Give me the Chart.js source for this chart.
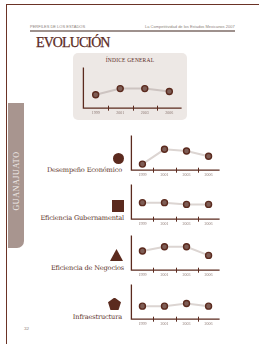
<!DOCTYPE html>
<html><head><meta charset="utf-8">
<script src="https://cdn.jsdelivr.net/npm/chart.js@4.4.0/dist/chart.umd.min.js"></script>
<style>
html,body{margin:0;padding:0;background:#fff;width:259px;height:344px;overflow:hidden;position:relative;-webkit-font-smoothing:antialiased}
.a{position:absolute}
canvas.a{display:block}
.lbl{position:absolute;white-space:nowrap;text-align:right;font-family:"DejaVu Serif",serif;font-size:6.6px;line-height:8px;color:#5b3229;letter-spacing:-0.15px}
</style></head><body>
<div class="a" style="left:6px;top:4px;width:253px;height:1px;background:#6b3326"></div>
<div class="a" style="left:6px;top:4px;width:1px;height:340px;background:#6b3326"></div>
<div class="a" style="left:30px;top:24px;font:4px 'Liberation Sans',sans-serif;color:#8d7f7b;white-space:nowrap">PERFILES DE LOS ESTADOS</div>
<div class="a" style="left:145px;top:24px;font:4px 'Liberation Sans',sans-serif;color:#8d7f7b;white-space:nowrap">La Competitividad de los Estados Mexicanos 2007</div>
<div class="a" style="left:30px;top:29.5px;width:205px;height:2px;background:#9e918d"></div>
<div class="a" style="left:36px;top:35px;font:14px 'Liberation Serif',serif;color:#5b2a1e;white-space:nowrap;letter-spacing:-0.9px;-webkit-text-stroke:0.25px #5b2a1e">EVOLUCIÓN</div>
<div class="a" style="left:73px;top:53px;width:114px;height:67px;background:#ede8e5;border-radius:5px"></div>
<div class="a" style="left:73px;top:57px;width:114px;text-align:center;font:5.5px 'Liberation Serif',serif;color:#5b2a1e;letter-spacing:0.2px">ÍNDICE GENERAL</div>
<div class="a" style="left:8px;top:103px;width:16px;height:145px;background:#a8958f;border-bottom-right-radius:7px"></div>
<div class="a" style="left:16px;top:181px;transform:translate(-50%,-50%) rotate(-90deg);font:8px 'Liberation Serif',serif;color:#f3eeec;letter-spacing:0.6px;white-space:nowrap">GUANAJUATO</div>
<div class="a" style="left:24px;top:326px;font:5px 'Liberation Serif',serif;color:#7a6661">32</div>

<div class="a" style="left:113px;top:152.5px;width:11px;height:11px;border-radius:50%;background:#5b2a1e"></div>
<div class="a" style="left:112px;top:200px;width:12px;height:12px;background:#5b2a1e"></div>
<div class="a" style="left:110px;top:249px;width:13px;height:12px;background:#5b2a1e;clip-path:polygon(50% 0,100% 100%,0 100%)"></div>
<div class="a" style="left:108px;top:297.5px;width:13px;height:12.5px;background:#5b2a1e;clip-path:polygon(50% 0,100% 38%,81% 100%,19% 100%,0 38%)"></div>

<div class="lbl" id="l0" style="right:137px;top:166px"></div>
<div class="lbl" id="l1" style="right:135px;top:214px"></div>
<div class="lbl" id="l2" style="right:135px;top:264px"></div>
<div class="lbl" id="l3" style="right:137px;top:313px"></div>

<script>
// ---- data ----
const years = ['1999', '2001', '2003', '2006'];
const indiceGeneral = [33, 48, 48, 41];
const desempenoEconomico = [17.5, 60, 55, 40];
const eficienciaGubernamental = [47.5, 47.5, 42.5, 42.5];
const eficienciaNegocios = [55, 67.5, 67.5, 42.5];
const infraestructura = [37.5, 37.5, 45, 37.5];
const factorNames = ['Desempeño Económico', 'Eficiencia Gubernamental', 'Eficiencia de Negocios', 'Infraestructura'];
const factorSeries = [desempenoEconomico, eficienciaGubernamental, eficienciaNegocios, infraestructura];

factorNames.forEach((n, i) => { document.getElementById('l' + i).textContent = n; });

const BROWN = '#5b2a1e';
const axesPlugin = {
  id: 'axesDraw',
  beforeDatasetsDraw(chart) {
    const {ctx, chartArea: a} = chart;
    const x = chart.scales.x;
    ctx.save();
    ctx.strokeStyle = BROWN;
    ctx.lineWidth = 1.3;
    ctx.beginPath();
    ctx.moveTo(a.left, a.top);
    ctx.lineTo(a.left, a.bottom);
    ctx.lineTo(a.right, a.bottom);
    ctx.stroke();
    ctx.lineWidth = 1;
    ctx.beginPath();
    for (let i = 1; i < x.ticks.length; i++) {
      const px = Math.round((x.getPixelForValue(i - 1) + x.getPixelForValue(i)) / 2) + 0.5;
      ctx.moveTo(px, a.bottom - 2.5);
      ctx.lineTo(px, a.bottom + 2.5);
    }
    ctx.stroke();
    ctx.restore();
  }
};

function makeChart(values, L, T, R, B, lineColor) {
  const pl = 3, pt = 3, pr = 3, pb = 1;
  const xh = 4 * 1.2 + 2.5;
  const c = document.createElement('canvas');
  c.className = 'a';
  const w = R - L + pl + pr;
  const h = Math.round(B - T + pt + xh + pb);
  c.width = w; c.height = h;
  c.style.left = (L - pl) + 'px';
  c.style.top = (T - pt) + 'px';
  c.style.width = w + 'px'; c.style.height = h + 'px';
  document.body.appendChild(c);
  new Chart(c, {
    type: 'line',
    data: {
      labels: years,
      datasets: [{
        data: values,
        borderColor: lineColor,
        borderWidth: 2,
        pointRadius: 3,
        pointBackgroundColor: '#7e5d55',
        pointBorderColor: BROWN,
        pointBorderWidth: 1.4,
        tension: 0
      }]
    },
    options: {
      responsive: false,
      devicePixelRatio: 1,
      animation: false,
      events: [],
      layout: {padding: {left: pl, top: pt, right: pr, bottom: pb}},
      plugins: {legend: {display: false}, tooltip: {enabled: false}},
      scales: {
        x: {
          offset: true,
          grid: {display: false, drawTicks: false},
          border: {display: false},
          ticks: {font: {size: 4, family: 'Liberation Serif'}, color: '#8a7671', padding: 2.5, maxRotation: 0, autoSkip: false}
        },
        y: {display: false, min: 0, max: 100}
      }
    },
    plugins: [axesPlugin]
  });
}

makeChart(indiceGeneral, 81, 65, 184, 111, '#cdc4c1');
const tops = [133, 182, 233, 282];
factorSeries.forEach((s, i) => makeChart(s, 129, tops[i], 222, tops[i] + 40, '#dcd5d2'));
</script>
</body></html>
